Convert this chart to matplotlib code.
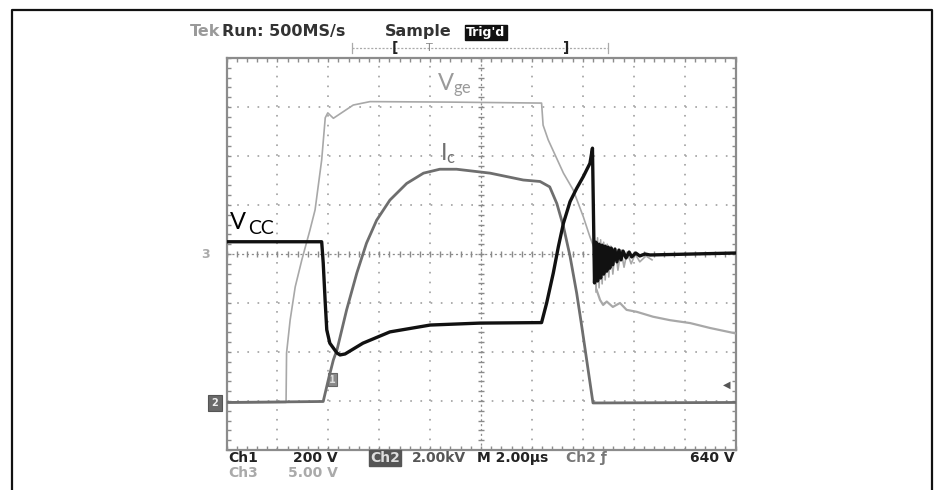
import numpy as np
import matplotlib.pyplot as plt
from matplotlib.lines import Line2D

plt.rcParams['lines.scale_dashes'] = False
plt.rcParams['mathtext.default'] = 'regular'

# scope traces in divisions (x: 0..10, y: -4..4 around centre)
vcc_x = [0, 1.87, 1.90, 1.94, 1.97, 2.03, 2.17, 2.23, 2.33, 2.68, 3.21, 4.00, 4.98, 6.19,
         6.29, 6.42, 6.52, 6.62, 6.75, 6.88, 7.01, 7.14, 7.19,
         7.23, 7.26, 7.29, 7.32, 7.35, 7.38, 7.41, 7.44, 7.47, 7.50, 7.53, 7.56, 7.59,
         7.63, 7.67, 7.71, 7.75, 7.79, 7.85, 7.91, 7.96, 8.04, 8.12, 8.22, 8.32, 10.0]
vcc_y = [0.25, 0.25, -0.18, -1.00, -1.55, -1.82, -2.02, -2.06, -2.04, -1.82, -1.59, -1.45, -1.41, -1.40,
         -1.00, -0.39, 0.15, 0.63, 1.07, 1.34, 1.58, 1.85, 2.16,
         -0.59, 0.24, -0.55, 0.20, -0.49, 0.18, -0.41, 0.16, -0.35, 0.14, -0.29, 0.12, -0.22,
         0.10, -0.16, 0.08, -0.12, 0.06, -0.08, 0.04, -0.06, 0.02, -0.04, 0.0, -0.02, 0.02]

ic_x = [0, 1.90, 2.00, 2.10, 2.17, 2.36, 2.56, 2.75, 2.95, 3.21, 3.54, 3.87, 4.19, 4.52,
        5.18, 5.83, 6.16, 6.35, 6.49, 6.62, 6.75, 6.88, 6.98, 7.20, 10.0]
ic_y = [-3.03, -3.01, -2.57, -2.16, -1.96, -1.14, -0.39, 0.22, 0.69, 1.10, 1.44, 1.65, 1.73, 1.73,
        1.65, 1.51, 1.48, 1.37, 1.03, 0.56, -0.05, -0.80, -1.48, -3.04, -3.03]

vge_x = [0, 1.17, 1.18, 1.25, 1.35, 1.48, 1.64, 1.74, 1.87, 1.94, 1.99, 2.10, 2.23, 2.49, 2.82,
         4.39, 6.19, 6.22, 6.32, 6.62, 6.81, 7.01, 7.14, 7.24,
         7.26, 7.29, 7.32, 7.35, 7.38, 7.41, 7.44, 7.48, 7.51, 7.55, 7.59, 7.64, 7.69,
         7.75, 7.81, 7.87, 7.95, 8.03, 8.12, 8.24, 8.36]
vge_y = [-3.04, -3.03, -2.02, -1.35, -0.67, -0.12, 0.49, 0.90, 1.92, 2.78, 2.88, 2.77, 2.86, 3.04, 3.11,
         3.10, 3.08, 2.63, 2.33, 1.65, 1.31, 0.76, 0.35, 0.08,
         -0.78, 0.33, -0.69, 0.29, -0.61, 0.24, -0.53, 0.20, -0.47, 0.16, -0.41, 0.12, -0.33,
         0.08, -0.27, 0.04, -0.20, 0.0, -0.16, -0.04, -0.12]

vge_tail_x = [7.27, 7.34, 7.40, 7.47, 7.59, 7.73, 7.86, 8.06, 8.38, 8.71, 9.11, 9.50, 10.0]
vge_tail_y = [-0.73, -0.94, -1.04, -0.97, -1.08, -1.00, -1.14, -1.18, -1.28, -1.35, -1.41, -1.51, -1.62]

W, H = 938, 490
def fx(px):
    return px / W
def fy(py):
    return 1 - py / H

fig = plt.figure(figsize=(9.38, 4.90), dpi=100)
ax = fig.add_axes([fx(226.5), fy(450), 509 / W, 392 / H])
ax.set_xlim(0, 10)
ax.set_ylim(-4, 4)

# graticule
for k in range(1, 10):
    if k != 5:
        ax.axvline(k, color='#a0a0a0', lw=1.2, dashes=(1.2, 5.86), zorder=1)
for k in [-3, -2, -1, 1, 2, 3]:
    ax.axhline(k, color='#a0a0a0', lw=1.2, dashes=(1.2, 6.13), zorder=1)
ax.axhline(0, color='#8a8a8a', lw=0.9, dashes=(1.5, 2.0), zorder=1)
ax.axvline(5, color='#8a8a8a', lw=0.9, dashes=(1.5, 2.0), zorder=1)
ax.plot(np.arange(0, 10.01, 0.2), np.zeros(51), ls='none', marker='|', ms=5, mew=1, color='#8a8a8a', zorder=1)
ax.plot(np.full(41, 5.0), np.arange(-4, 4.01, 0.2), ls='none', marker='_', ms=5, mew=1, color='#8a8a8a', zorder=1)

for s in ax.spines.values():
    s.set_color('#8c8c8c')
    s.set_linewidth(1.6)
ax.set_xticks(np.arange(0, 10.01, 0.2))
ax.set_yticks(np.arange(-4, 4.01, 0.2))
ax.tick_params(direction='in', length=3, width=1, color='#8c8c8c',
               top=True, right=True, labelbottom=False, labelleft=False)

# traces
ax.plot(vge_x, vge_y, color='#a8a8a8', lw=1.2, zorder=3)
ax.plot(vge_tail_x, vge_tail_y, color='#a8a8a8', lw=1.6, zorder=3)
ax.plot(ic_x, ic_y, color='#6e6e6e', lw=2.0, zorder=4)
ax.plot(vcc_x, vcc_y, color='#111111', lw=2.4, zorder=5)

# trace labels
ax.text(4.13, 3.33, 'V$_{ge}$', color='#9a9a9a', fontsize=17, family='Lato', va='baseline')
ax.text(4.20, 1.92, 'I$_c$', color='#707070', fontsize=17, family='Lato', va='baseline')
fig.text(fx(230), fy(229), 'V', color='#000000', fontsize=17, family='Lato', va='baseline')
fig.text(fx(248), fy(234), 'CC', color='#000000', fontsize=14, family='Lato', va='baseline')

# markers
ax.text(9.82, -2.66, '\u25c0', color='#555555', fontsize=7, ha='center', va='center')
ax.text(2.08, -2.57, '1', color='#dddddd', fontsize=7, fontweight='bold', ha='center', va='center',
        bbox=dict(boxstyle='square,pad=0.15', fc='#8a8a8a', ec='#666666', lw=0.8))
fig.text(fx(205), fy(254), '3', color='#aaaaaa', fontsize=9, fontweight='bold', ha='center', va='center')
fig.text(fx(215), fy(403), '2', color='#eeeeee', fontsize=7, fontweight='bold', ha='center', va='center',
         bbox=dict(boxstyle='square,pad=0.35', fc='#6a6a6a', ec='#555555', lw=0.8))

# outer frame
fig.add_artist(Line2D([fx(12), fx(12), fx(932), fx(932)], [0, fy(10), fy(10), 0], color='#111111', lw=1.6))

# header
fig.text(fx(190), fy(36), 'Tek', color='#9a9a9a', fontsize=11.5, fontweight='bold', va='baseline')
fig.text(fx(222), fy(36), 'Run: 500MS/s', color='#333333', fontsize=11.5, fontweight='bold', va='baseline')
fig.text(fx(385), fy(36), 'Sample', color='#333333', fontsize=11.5, fontweight='bold', va='baseline')
fig.text(fx(466), fy(36), "Trig'd", color='#ffffff', fontsize=9, fontweight='bold', va='baseline',
         bbox=dict(boxstyle='square,pad=0.1', fc='#111111', ec='#111111'))
fig.add_artist(Line2D([fx(352), fx(608)], [fy(48), fy(48)], color='#aaaaaa', lw=0.9, dashes=(1.5, 1.2)))
for px in [352, 608]:
    fig.add_artist(Line2D([fx(px), fx(px)], [fy(43), fy(53)], color='#aaaaaa', lw=0.9))
fig.text(fx(395), fy(48), '[', color='#222222', fontsize=10, fontweight='bold', ha='center', va='center')
fig.text(fx(429), fy(48), 'T', color='#888888', fontsize=8, ha='center', va='center')
fig.text(fx(566), fy(48), ']', color='#222222', fontsize=10, fontweight='bold', ha='center', va='center')

# footer readouts
row1 = fy(462)
row2 = fy(477)
fs = 10
fig.text(fx(228), row1, 'Ch1', color='#222222', fontsize=fs, fontweight='bold', va='baseline')
fig.text(fx(338), row1, '200 V', color='#222222', fontsize=fs, fontweight='bold', va='baseline', ha='right')
fig.text(fx(370), row1, 'Ch2', color='#dddddd', fontsize=fs, fontweight='bold', va='baseline',
         bbox=dict(boxstyle='square,pad=0.08', fc='#555555', ec='#555555'))
fig.text(fx(412), row1, '2.00kV', color='#555555', fontsize=fs, fontweight='bold', va='baseline')
fig.text(fx(477), row1, 'M 2.00\u00b5s', color='#222222', fontsize=fs, fontweight='bold', va='baseline')
fig.text(fx(566), row1, 'Ch2 \u0192', color='#777777', fontsize=fs, fontweight='bold', va='baseline')
fig.text(fx(735), row1, '640 V', color='#222222', fontsize=fs, fontweight='bold', va='baseline', ha='right')
fig.text(fx(228), row2, 'Ch3', color='#aaaaaa', fontsize=fs, fontweight='bold', va='baseline')
fig.text(fx(338), row2, '5.00 V', color='#aaaaaa', fontsize=fs, fontweight='bold', va='baseline', ha='right')

fig.savefig('out.png', dpi=100)
